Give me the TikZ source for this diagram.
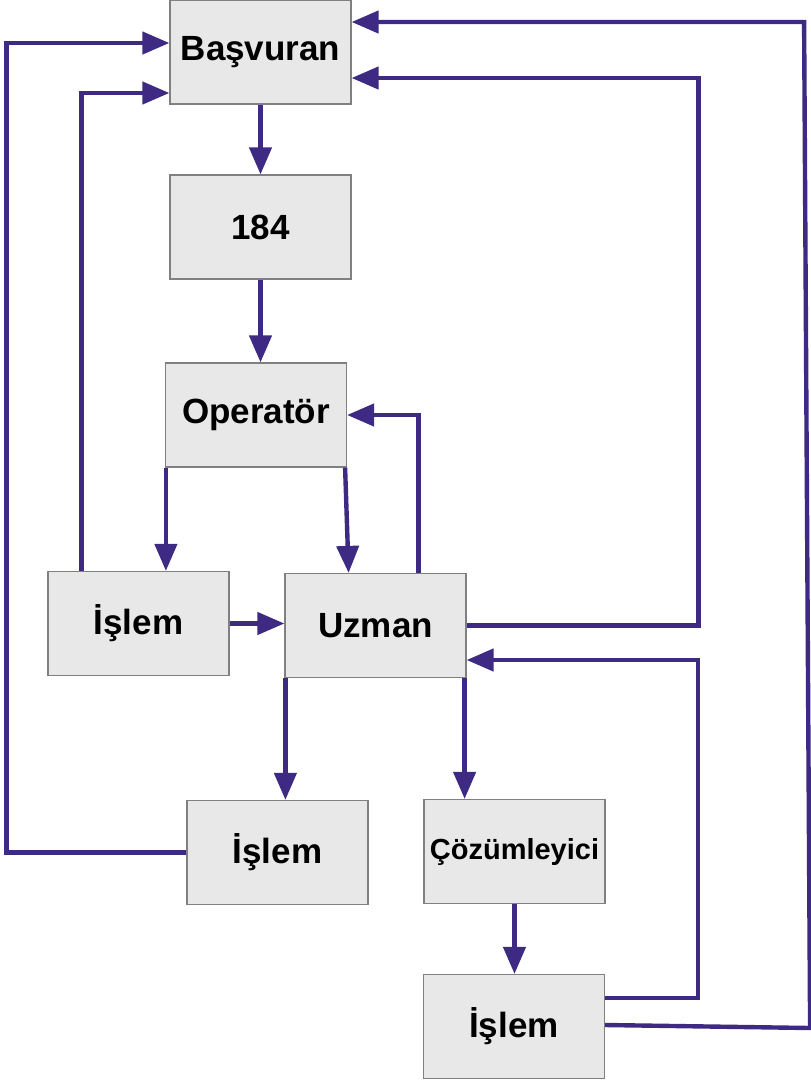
\documentclass[tikz,border=0pt]{standalone}
\usepackage{fontspec}
\setmainfont{Liberation Sans}
\usetikzlibrary{arrows.meta}
\definecolor{flowpurple}{RGB}{62, 42, 130}
\definecolor{boxgray}{RGB}{232, 232, 232}
\definecolor{edgegray}{RGB}{128, 128, 128}

\begin{document}
\begin{tikzpicture}[x=1pt, y=-1pt,
  stepbox/.style={draw=edgegray, line width=1.2pt, fill=boxgray, rectangle,
    minimum width=181pt, minimum height=104pt, inner sep=0pt,
    font=\fontsize{35}{40}\selectfont\bfseries},
  flow/.style={draw=flowpurple, line width=4.4pt,
    -{Triangle[length=27pt, width=22pt]}}]
\useasboundingbox (0,0) rectangle (811,1080);

% Boxes
\node[stepbox] (basvuran) at (260.5,52) {Başvuran};
\node[stepbox] (hat184) at (260.5,227) {184};
\node[stepbox] (operator) at (256,415) {Operatör};
\node[stepbox] (islemA) at (138.5,623.5) {İşlem};
\node[stepbox] (uzman) at (375.5,625.5) {Uzman};
\node[stepbox] (islemB) at (277.5,852.5) {İşlem};
\node[stepbox, font=\fontsize{29}{34}\selectfont\bfseries] (cozum) at (514.5,851.5) {Çözümleyici};
\node[stepbox] (islemC) at (514,1026.5) {İşlem};

% Main line
\draw[flow] (basvuran.south) -- (hat184.north);
\draw[flow] (hat184.south) -- (hat184.south |- operator.north);
\draw[flow] ([xshift=1pt]operator.south west) -- ([xshift=1pt]operator.south west |- islemA.north);
\draw[flow] ([xshift=-2pt]operator.south east) -- ([xshift=-118pt]uzman.north east);
\draw[flow] ([xshift=-48pt]uzman.north east) |- (operator.east);
\draw[flow] (islemA.east) -- (islemA.east -| uzman.west);

% Back to Basvuran
\draw[flow] ([xshift=34pt]islemA.north west) |- ([yshift=-41pt]basvuran.west);
\draw[flow] (islemB.west) -- ++(-180,0) |- ([yshift=9pt]basvuran.west);
\draw[flow] (uzman.east) -- ++(232,0) |- ([yshift=-26pt]basvuran.east);

% Lower part
\draw[flow] ([xshift=1pt]uzman.south west) -- ([xshift=1pt]uzman.south west |- islemB.north);
\draw[flow] ([xshift=-2pt]uzman.south east) -- ([xshift=-2pt]uzman.south east |- cozum.north);
\draw[flow] (cozum.south) -- (cozum.south |- islemC.north);
\draw[flow] ([yshift=28.5pt]islemC.east) -- ++(93,0) |- ([yshift=-34.5pt]uzman.east);
\draw[flow] ([yshift=1.5pt]islemC.east) -- ++(205,3) -- ++(-6,-1006) -- ([yshift=30pt]basvuran.east);
\end{tikzpicture}
\end{document}
